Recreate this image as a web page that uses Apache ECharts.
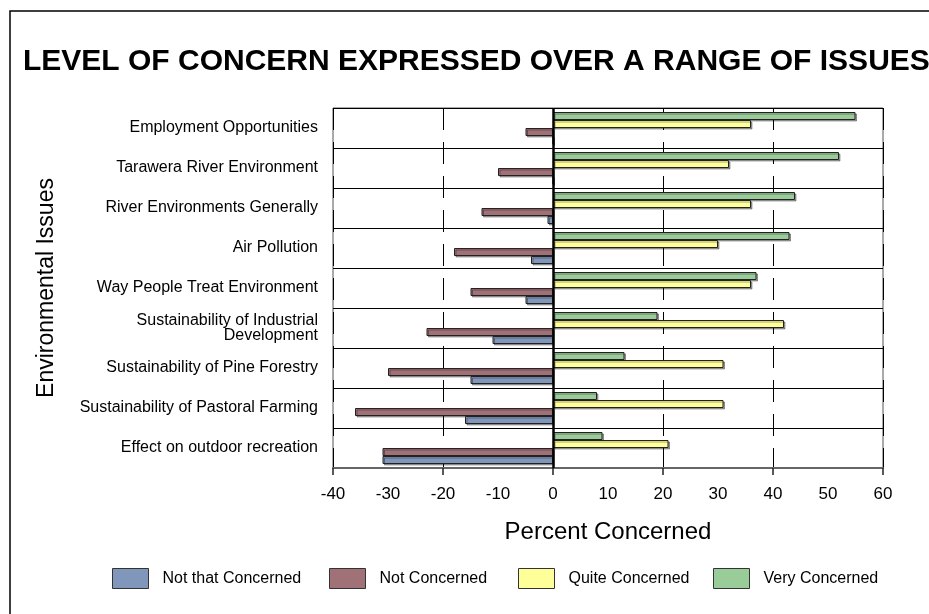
<!DOCTYPE html>
<html>
<head>
<meta charset="utf-8">
<script src="https://cdn.jsdelivr.net/npm/echarts@6/dist/echarts.min.js"></script>
<style>
  html, body { margin: 0; padding: 0; background: #fff; }
  #chart { width: 929px; height: 614px; }
</style>
</head>
<body>
<div id="chart"></div>
<script>
// Survey issues, listed top to bottom
const categories = [
  'Employment Opportunities',
  'Tarawera River Environment',
  'River Environments Generally',
  'Air Pollution',
  'Way People Treat Environment',
  'Sustainability of Industrial\nDevelopment',
  'Sustainability of Pine Forestry',
  'Sustainability of Pastoral Farming',
  'Effect on outdoor recreation'
];

// Percent of respondents per level of concern (negative = unconcerned side)
const notThatConcerned = [0, 0, -1, -4, -5, -11, -15, -16, -31];
const notConcerned     = [-5, -10, -13, -18, -15, -23, -30, -36, -31];
const quiteConcerned   = [36, 32, 36, 30, 36, 42, 31, 31, 21];
const veryConcerned    = [55, 52, 44, 43, 37, 19, 13, 8, 9];

// Legend order (left to right)
const legendNames = ['Not that Concerned', 'Not Concerned', 'Quite Concerned', 'Very Concerned'];
const legendLeft = [107, 324, 513, 708];

// Bars inside each group, top to bottom
const seriesList = [
  { name: 'Very Concerned', data: veryConcerned, color: '#99cc99' },
  { name: 'Quite Concerned', data: quiteConcerned, color: '#ffff99' },
  { name: 'Not Concerned', data: notConcerned, color: '#a17178' },
  { name: 'Not that Concerned', data: notThatConcerned, color: '#8097bb' }
];

const FONT = 'Liberation Sans, Arial, sans-serif';

const chart = echarts.init(document.getElementById('chart'), null, { renderer: 'canvas' });

const option = {
  backgroundColor: '#fff',
  animation: false,
  title: {
    text: 'LEVEL OF CONCERN EXPRESSED OVER A RANGE OF ISSUES',
    left: 18,
    top: 42,
    textStyle: { fontFamily: FONT, fontSize: 30, fontWeight: 'bold', color: '#000' }
  },
  graphic: [{
    type: 'rect',
    shape: { x: 10, y: 11, width: 1200, height: 1200 },
    style: { fill: 'none', stroke: '#000', lineWidth: 1.5 },
    silent: true
  }],
  legend: legendNames.map((n, i) => ({
    data: [n],
    left: legendLeft[i],
    top: 563,
    itemWidth: 36,
    itemHeight: 20,
    icon: 'rect',
    itemStyle: { borderColor: '#333', borderWidth: 1, shadowBlur: 0, shadowOffsetX: 0, shadowOffsetY: 0, shadowColor: 'transparent' },
    textStyle: { fontFamily: FONT, fontSize: 16, color: '#000', padding: [0, 0, 0, 9] },
    selectedMode: false
  })),
  grid: {
    left: 333, right: 46, top: 108, bottom: 146,
    show: true, borderColor: '#555', borderWidth: 1
  },
  xAxis: [{
    type: 'value',
    min: -40, max: 60, interval: 10,
    name: 'Percent Concerned',
    nameLocation: 'middle',
    nameGap: 52,
    nameTextStyle: { fontFamily: FONT, fontSize: 24, color: '#000' },
    axisLine: { show: true, lineStyle: { color: '#666', width: 2 } },
    axisTick: { show: false },
    splitLine: { show: false },
    axisLabel: { fontFamily: FONT, fontSize: 17, color: '#000', margin: 18 }
  }, {
    type: 'value',
    position: 'bottom',
    min: -40, max: 60, interval: 20,
    axisLine: { show: false },
    axisLabel: { show: false },
    axisTick: { show: true, inside: false, length: 7, lineStyle: { color: '#222', width: 1.5 } },
    splitLine: { show: true, lineStyle: { color: '#000', width: 1, type: [22, 12] } }
  }],
  yAxis: {
    type: 'category',
    data: categories,
    inverse: true,
    name: 'Environmental Issues',
    nameLocation: 'middle',
    nameGap: 275,
    nameRotate: 90,
    nameTextStyle: { fontFamily: FONT, fontSize: 23, color: '#000' },
    axisLine: { show: false },
    axisTick: { show: false },
    splitLine: { show: true, lineStyle: { color: '#000', width: 1 } },
    axisLabel: { fontFamily: FONT, fontSize: 16, color: '#000', margin: 15, lineHeight: 15, align: 'right' }
  },
  series: seriesList.map((s, i) => ({
    name: s.name,
    type: 'bar',
    data: s.data,
    barGap: '0%',
    barCategoryGap: '20%',
    itemStyle: {
      color: s.color,
      borderColor: '#222',
      borderWidth: 1,
      shadowColor: 'rgba(0,0,0,0.35)',
      shadowOffsetX: 1.5,
      shadowOffsetY: 1.5,
      shadowBlur: 0
    },
    markLine: i === 0 ? {
      silent: true,
      symbol: 'none',
      label: { show: false },
      lineStyle: { color: '#000', width: 2.5, type: 'solid' },
      data: [{ xAxis: 0 }]
    } : undefined
  }))
};

chart.setOption(option);
</script>
</body>
</html>
